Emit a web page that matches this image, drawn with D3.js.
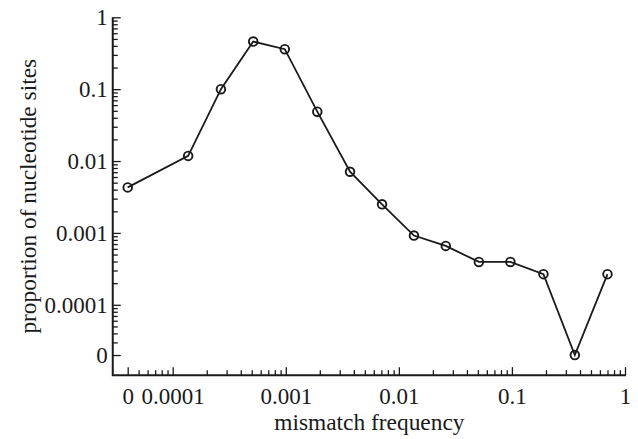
<!DOCTYPE html>
<html>
<head>
<meta charset="utf-8">
<script src="https://cdn.jsdelivr.net/npm/d3@7/dist/d3.min.js"></script>
<style>
  html, body { margin: 0; padding: 0; background: #fff; }
  svg { display: block; }
  text { font-family: "Liberation Serif", "Times New Roman", serif; fill: #1a1a1a; }
</style>
</head>
<body>
<svg id="chart" width="638" height="439"></svg>
<script>
// ---- data ----
const mismatchFrequency = [0, 1.37e-4, 2.67e-4, 5.15e-4, 9.8e-4, 1.9e-3, 3.7e-3, 7.1e-3, 0.0136, 0.026, 0.051, 0.097, 0.19, 0.36, 0.70];
const proportionSites   = [4.3e-3, 0.0118, 0.1, 0.46, 0.36, 0.0486, 7.1e-3, 2.5e-3, 9.2e-4, 6.6e-4, 3.95e-4, 3.95e-4, 2.67e-4, 0, 2.67e-4];
const xTickValues = [0, 1e-4, 1e-3, 1e-2, 0.1, 1];
const xTickLabels = ["0", "0.0001", "0.001", "0.01", "0.1", "1"];
const yTickValues = [0, 1e-4, 1e-3, 1e-2, 0.1, 1];
const yTickLabels = ["0", "0.0001", "0.001", "0.01", "0.1", "1"];
const xTitle = "mismatch frequency";
const yTitle = "proportion of nucleotide sites";

// where the value 0 is drawn on each log axis
const xZero = 4e-5, yZero = 2e-5;
const xAxisFrom = 2.95e-5, xAxisTo = 1.02;
const yAxisFrom = 1.05e-5, yAxisTo = 1;

const svg = d3.select("#chart");
const x = d3.scaleLog().domain([1e-4, 1]).range([172.7, 625]);
const y = d3.scaleLog().domain([1e-4, 1]).range([304.8, 17.3]);
const fx = v => x(v === 0 ? xZero : v);
const fy = v => y(v === 0 ? yZero : v);

// minor tick positions
const xMinor = [];
for (let k = 5; k <= 9; k++) xMinor.push(k * 1e-5);
for (let e = -4; e <= -1; e++) for (let k = 2; k <= 9; k++) xMinor.push(k * Math.pow(10, e));
const yMinor = [];
for (let k = 3; k <= 9; k++) yMinor.push(k * 1e-5);
for (let e = -4; e <= -1; e++) for (let k = 2; k <= 9; k++) yMinor.push(k * Math.pow(10, e));

const x0 = x(xAxisFrom), x1 = x(xAxisTo);
const yB = y(yAxisFrom), yT = y(yAxisTo);

// axes
const gx = svg.append("g").attr("transform", `translate(0,${yB})`);
gx.call(d3.axisBottom(x).tickValues(xMinor).tickSize(-5).tickFormat(""));
gx.call(g => g.select(".domain").remove());
const gxM = svg.append("g").attr("transform", `translate(0,${yB})`)
  .call(d3.axisBottom(x).tickValues(xTickValues.map(v => v === 0 ? xZero : v))
    .tickSize(-8).tickPadding(13)
    .tickFormat((d, i) => xTickLabels[i]));
gxM.select(".domain").remove();

const gy = svg.append("g").attr("transform", `translate(${x0},0)`);
gy.call(d3.axisLeft(y).tickValues(yMinor).tickSize(-5).tickFormat(""));
gy.call(g => g.select(".domain").remove());
const gyM = svg.append("g").attr("transform", `translate(${x0},0)`)
  .call(d3.axisLeft(y).tickValues(yTickValues.map(v => v === 0 ? yZero : v))
    .tickSize(-8).tickPadding(5)
    .tickFormat((d, i) => yTickLabels[i]));
gyM.select(".domain").remove();

svg.selectAll(".tick line").attr("stroke", "#1a1a1a").attr("stroke-width", 1.3);
svg.selectAll(".tick text").attr("font-size", 23).attr("fill", "#1a1a1a")
  .style("font-family", '"Liberation Serif", serif');

// axis lines
svg.append("path")
  .attr("d", `M${x0},${yT}V${yB}H${x1}`)
  .attr("fill", "none").attr("stroke", "#1a1a1a").attr("stroke-width", 2);

// data line
const pts = mismatchFrequency.map((f, i) => [fx(f), fy(proportionSites[i])]);
svg.append("path")
  .attr("d", d3.line()(pts))
  .attr("fill", "none").attr("stroke", "#1a1a1a").attr("stroke-width", 1.8);

svg.selectAll("circle.pt").data(pts).join("circle")
  .attr("class", "pt")
  .attr("cx", d => d[0]).attr("cy", d => d[1]).attr("r", 4.3)
  .attr("fill", "none").attr("stroke", "#1a1a1a").attr("stroke-width", 1.9);

// titles
svg.append("text")
  .attr("x", (x0 + x1) / 2).attr("y", 430)
  .attr("text-anchor", "middle").attr("font-size", 23.4)
  .text(xTitle);
svg.append("text")
  .attr("transform", `translate(36,${(yT + yB) / 2}) rotate(-90)`)
  .attr("text-anchor", "middle").attr("font-size", 23.4)
  .text(yTitle);
</script>
</body>
</html>
